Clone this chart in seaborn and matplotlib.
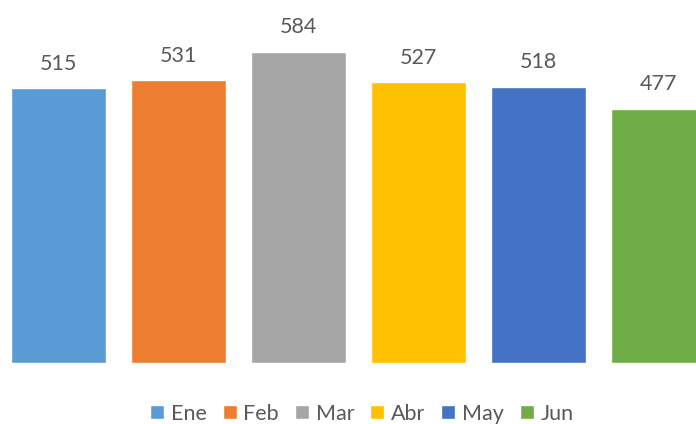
import matplotlib
matplotlib.use('Agg')
import matplotlib.pyplot as plt
import seaborn as sns
import pandas as pd

# 数据
meses = ['Ene', 'Feb', 'Mar', 'Abr', 'May', 'Jun']
valores = [515, 531, 584, 527, 518, 477]
colores = ['#5B9BD5', '#ED7D31', '#A5A5A5', '#FFC000', '#4472C4', '#70AD47']

sns.set_style('white')
plt.rcParams['font.family'] = ['Lato', 'DejaVu Sans']

df = pd.DataFrame({'mes': meses, 'valor': valores})

fig = plt.figure(figsize=(6.96, 4.24), dpi=100)
ax = fig.add_axes([0, 61 / 424, 1, 363 / 424])

sns.barplot(data=df, x='mes', y='valor', hue='mes', palette=colores,
            saturation=1, width=0.79, dodge=False, legend=True, ax=ax)

# 数据标签
for i, v in enumerate(valores):
    ax.text(i, v + 27, str(v), ha='center', va='bottom',
            fontsize=15.5, color='#595959')

ax.set_xlim(-0.4875, 5.3125)
ax.set_ylim(0, 681)
ax.set_xlabel('')
ax.set_ylabel('')
ax.set_xticks([])
ax.set_yticks([])
sns.despine(ax=ax, left=True, bottom=True, top=True, right=True)

handles, labels = ax.get_legend_handles_labels()
ax.get_legend().remove()
fig.legend(handles, labels, loc='center', bbox_to_anchor=(0.52, 0.024),
           ncol=6, frameon=False, fontsize=15.5, labelcolor='#595959',
           handlelength=0.65, handleheight=0.65, handletextpad=0.3,
           columnspacing=0.75)

fig.savefig('out.png', dpi=100)
plt.close(fig)
